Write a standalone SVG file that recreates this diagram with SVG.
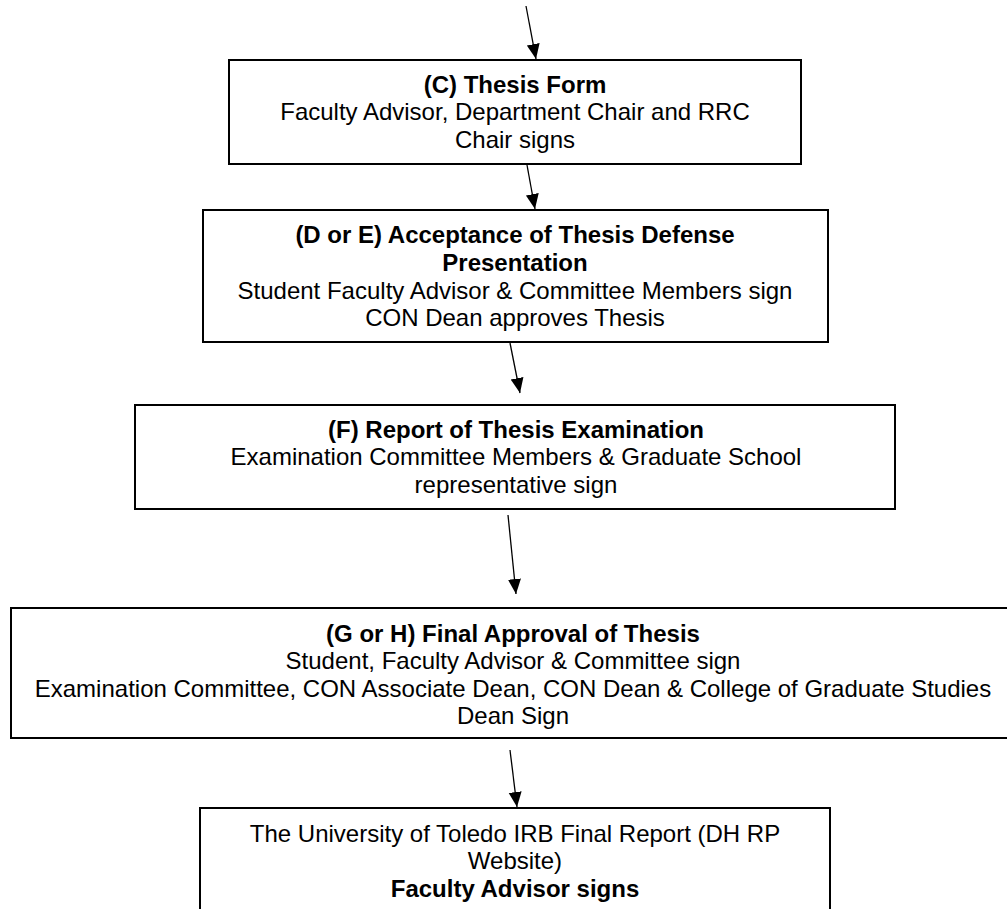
<svg xmlns="http://www.w3.org/2000/svg" width="1007" height="909" viewBox="0 0 1007 909">
<style>
.box{fill:#fff;stroke:#000;stroke-width:2}
text{font-family:"Liberation Sans",Arial,sans-serif;font-size:24px;fill:#000;text-anchor:middle}
.b{font-weight:bold}
.conn line{stroke:#000;stroke-width:1.3}
</style>
<defs>
<marker id="ah" markerUnits="userSpaceOnUse" markerWidth="16" markerHeight="14" refX="15" refY="6.5" orient="auto">
<path d="M0,0 L15,6.5 L0,13 z" fill="#000"/>
</marker>
</defs>
<rect width="1007" height="909" fill="#fff"/>
<g id="nodeC">
<rect class="box" x="229" y="60" width="572" height="104"/>
<text class="b" x="515" y="92.5">(C) Thesis Form</text>
<text x="515" y="120.2">Faculty Advisor, Department Chair and RRC</text>
<text x="515" y="147.8">Chair signs</text>
</g>
<g id="nodeD">
<rect class="box" x="203" y="210" width="625" height="132"/>
<text class="b" x="515" y="243.3">(D or E) Acceptance of Thesis Defense</text>
<text class="b" x="515" y="270.9">Presentation</text>
<text x="515" y="298.5">Student Faculty Advisor &amp; Committee Members sign</text>
<text x="515" y="326.1">CON Dean approves Thesis</text>
</g>
<g id="nodeF">
<rect class="box" x="135" y="405" width="760" height="104"/>
<text class="b" x="516" y="437.5">(F) Report of Thesis Examination</text>
<text x="516" y="465.1">Examination Committee Members &amp; Graduate School</text>
<text x="516" y="492.7">representative sign</text>
</g>
<g id="nodeG">
<rect class="box" x="11" y="608" width="1006" height="130"/>
<text class="b" x="513" y="641.7">(G or H) Final Approval of Thesis</text>
<text x="513" y="669.1">Student, Faculty Advisor &amp; Committee sign</text>
<text x="513" y="696.6">Examination Committee, CON Associate Dean, CON Dean &amp; College of Graduate Studies</text>
<text x="513" y="724">Dean Sign</text>
</g>
<g id="nodeH">
<rect class="box" x="200" y="808" width="630" height="110"/>
<text x="515" y="841.7">The University of Toledo IRB Final Report (DH RP</text>
<text x="515" y="869.3">Website)</text>
<text class="b" x="515" y="896.9">Faculty Advisor signs</text>
</g>
<g id="connectors" class="conn">
<line x1="526" y1="6" x2="536" y2="59" marker-end="url(#ah)"/>
<line x1="527" y1="165" x2="535" y2="209" marker-end="url(#ah)"/>
<line x1="510" y1="343" x2="520" y2="393" marker-end="url(#ah)"/>
<line x1="508" y1="515" x2="516" y2="594" marker-end="url(#ah)"/>
<line x1="510" y1="750" x2="517" y2="807" marker-end="url(#ah)"/>
</g>
</svg>
